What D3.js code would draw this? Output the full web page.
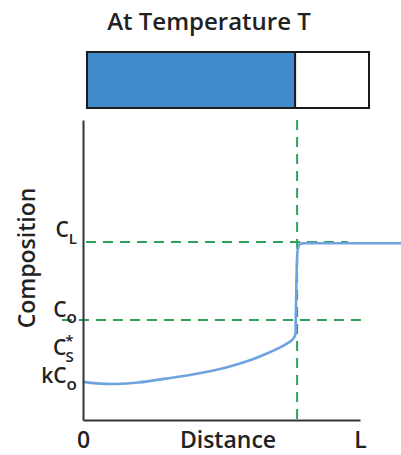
<!DOCTYPE html>
<html>
<head>
<meta charset="utf-8">
<script src="https://cdn.jsdelivr.net/npm/d3@7"></script>
<style>
  html, body { margin: 0; padding: 0; background: #fff; }
  svg { display: block; }
  text { font-family: "Open Sans", Lato, sans-serif; fill: #222; }
</style>
</head>
<body>
<svg id="chart" width="401" height="455"></svg>
<script>
// Composition levels (arbitrary units, 0–100 along the composition axis)
const levelNames = ["CL", "Co", "CsStar", "kCo"];
const levelValues = [59.3, 33.3, 23.3, 12.7];

// Solute profile ahead of the solid/liquid interface: [distance / L, composition]
const profileDistance = [0, 0.05, 0.12, 0.2, 0.3, 0.42, 0.52, 0.6, 0.67, 0.72, 0.75, 0.765, 0.768, 0.771, 0.775, 0.782, 0.8, 0.9, 1.0, 1.15];
const profileComposition = [12.7, 12.2, 12.0, 12.5, 13.8, 15.6, 17.6, 19.8, 22.4, 24.6, 26.3, 28.0, 34, 48, 56.5, 58.6, 58.9, 58.9, 58.9, 58.9];

// Interface position and fraction of the bar that has solidified
const interfacePos = 0.773;
const solidFraction = 0.738;

const svg = d3.select("#chart");
const x = d3.scaleLinear().domain([0, 1]).range([83, 360]);
const y = d3.scaleLinear().domain([0, 100]).range([420, 120]);
const barX = d3.scaleLinear().domain([0, 1]).range([87, 369]);

// Title
svg.append("text")
  .attr("x", 209).attr("y", 30)
  .attr("text-anchor", "middle")
  .attr("font-size", 24).attr("font-weight", 600)
  .text("At Temperature T");

// Bar: solid (blue) and liquid (white)
svg.append("rect")
  .attr("x", barX(0)).attr("y", 52)
  .attr("width", barX(solidFraction) - barX(0)).attr("height", 56)
  .attr("fill", "#428bca");
svg.append("rect")
  .attr("x", barX(0)).attr("y", 52)
  .attr("width", barX(1) - barX(0)).attr("height", 56)
  .attr("fill", "none").attr("stroke", "#1a1a1a").attr("stroke-width", 2);
svg.append("line")
  .attr("x1", barX(solidFraction)).attr("x2", barX(solidFraction))
  .attr("y1", 52).attr("y2", 108)
  .attr("stroke", "#1a1a1a").attr("stroke-width", 2);

// Dashed guide lines
const green = "#2ca25a";
const dash = "10,7";
const byName = Object.fromEntries(levelNames.map((n, i) => [n, levelValues[i]]));
svg.append("line")
  .attr("x1", x(0) + 3).attr("x2", x(0.957))
  .attr("y1", y(byName.CL)).attr("y2", y(byName.CL))
  .attr("stroke", green).attr("stroke-width", 2).attr("stroke-dasharray", dash);
svg.append("line")
  .attr("x1", x(-0.076)).attr("x2", x(1.01))
  .attr("y1", y(byName.Co)).attr("y2", y(byName.Co))
  .attr("stroke", green).attr("stroke-width", 2).attr("stroke-dasharray", dash);
svg.append("line")
  .attr("x1", x(interfacePos)).attr("x2", x(interfacePos))
  .attr("y1", y(100)).attr("y2", y(0))
  .attr("stroke", green).attr("stroke-width", 2).attr("stroke-dasharray", dash);

// Composition profile
svg.append("path")
  .datum(profileComposition)
  .attr("d", d3.line()
    .x((d, i) => x(profileDistance[i]))
    .y(d => y(d))
    .curve(d3.curveCatmullRom.alpha(0.5)))
  .attr("fill", "none")
  .attr("stroke", "#6fa3e0")
  .attr("stroke-width", 2.6)
  .attr("stroke-linejoin", "round");

// Axes
const xAxis = d3.axisBottom(x).tickValues([0, 1]).tickSize(0).tickPadding(10)
  .tickFormat(d => d === 0 ? "0" : "L");
const gx = svg.append("g").attr("transform", `translate(0,${y(0)})`).call(xAxis);
gx.select(".domain").attr("stroke", "#333").attr("stroke-width", 2);
gx.selectAll("text").attr("font-size", 23).attr("font-weight", 600)
  .attr("font-family", "'Open Sans', sans-serif").attr("fill", "#222").attr("dy", "0.78em");

const yAxis = d3.axisLeft(y).tickValues([]).tickSizeOuter(0);
const gy = svg.append("g").attr("transform", `translate(${x(0)},0)`).call(yAxis);
gy.select(".domain").attr("stroke", "#333").attr("stroke-width", 2);

// Axis titles
svg.append("text")
  .attr("x", 228).attr("y", 448)
  .attr("text-anchor", "middle")
  .attr("font-size", 23).attr("font-weight", 600)
  .text("Distance");
svg.append("text")
  .attr("transform", "translate(35,258) rotate(-90)")
  .attr("text-anchor", "middle")
  .attr("font-size", 23).attr("font-weight", 600)
  .text("Composition");

// Level labels: main letter(s) plus subscript, right-aligned against the axis
function level(name, main, sub, mainDy, subDy, subSize) {
  const t = svg.append("text")
    .attr("x", 77).attr("y", y(byName[name]) + mainDy)
    .attr("text-anchor", "end")
    .attr("font-size", 21).attr("font-weight", 600);
  t.append("tspan").text(main);
  t.append("tspan").attr("font-size", subSize).attr("dy", subDy).text(sub);
  return t;
}
level("CL", "C", "L", -5, 7, 15);
level("Co", "C", "o", -3, 6, 17);
level("kCo", "kC", "o", 1, 7, 17);

// C*S: superscript star stacked above the subscript S
const cs = svg.append("text")
  .attr("x", 53).attr("y", y(byName.CsStar) + 5)
  .attr("font-size", 21).attr("font-weight", 600);
cs.append("tspan").text("C");
cs.append("tspan").attr("font-size", 15).attr("dy", -9).attr("dx", -1).text("*");
cs.append("tspan").attr("font-size", 15).attr("dy", 16).attr("dx", -8).text("S");
</script>
</body>
</html>
